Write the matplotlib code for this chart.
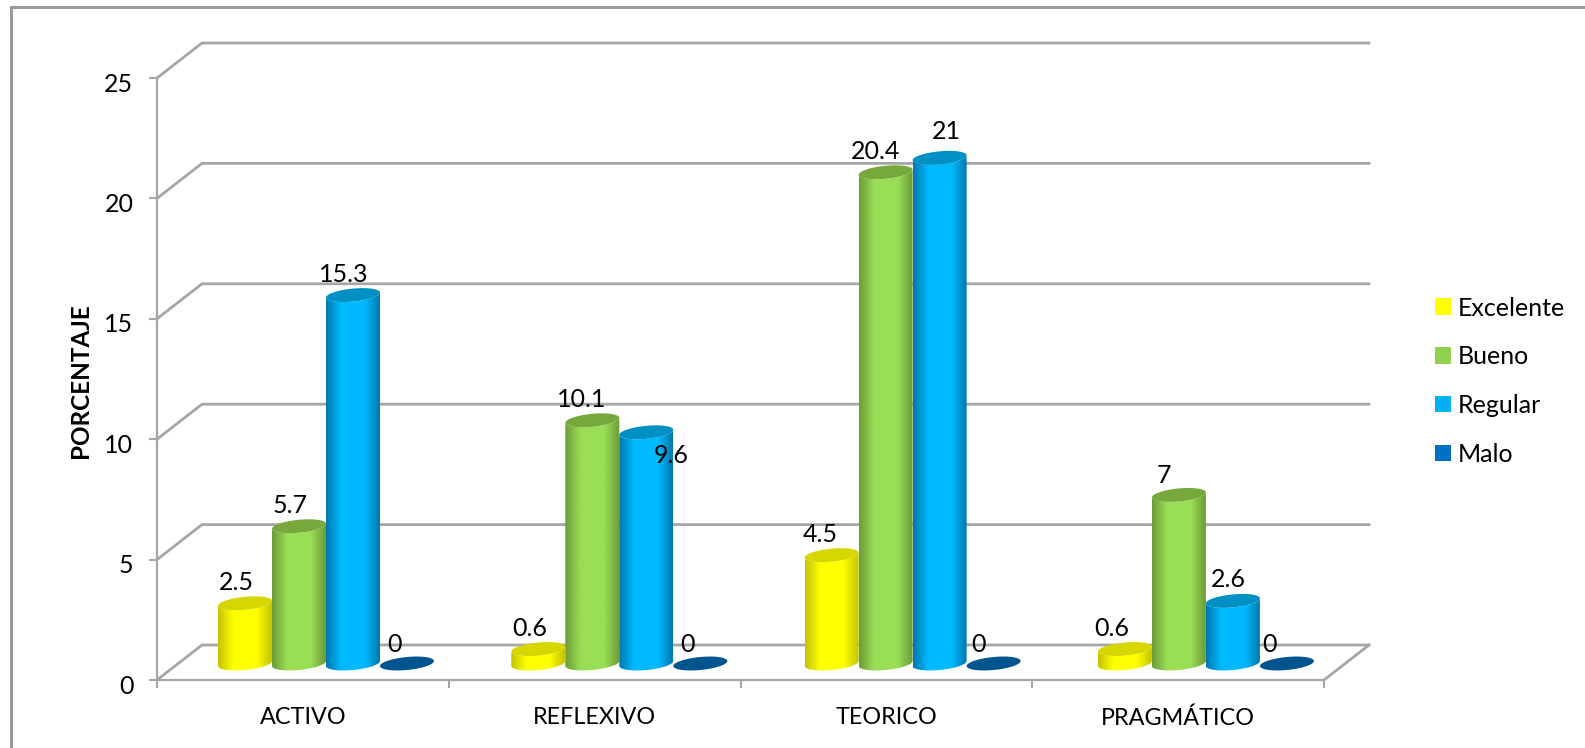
import numpy as np
import matplotlib
matplotlib.use("Agg")
import matplotlib.pyplot as plt
from matplotlib.colors import LinearSegmentedColormap
from matplotlib.lines import Line2D
from matplotlib.patches import Patch, Polygon
from matplotlib.transforms import ScaledTranslation

plt.rcParams['font.family'] = ['Lato', 'DejaVu Sans']

# ---- datos ----
categorias = ['ACTIVO', 'REFLEXIVO', 'TEORICO', 'PRAGMÁTICO']
excelente = [2.5, 0.6, 4.5, 0.6]
bueno = [5.7, 10.1, 20.4, 7]
regular = [15.3, 9.6, 21, 2.6]
malo = [0, 0, 0, 0]
series = ['Excelente', 'Bueno', 'Regular', 'Malo']
y_ticks = [0, 5, 10, 15, 20, 25]

# ---- estilo ----
valores = [excelente, bueno, regular, malo]
color_legend = ['#ffff00', '#92d050', '#00b0f0', '#0070c0']
color_borde = ['#c4c400', '#6c9c38', '#0079b0', '#00558f']
color_centro = ['#ffff00', '#9ade55', '#00baff', '#0070c0']
color_tapa = ['#d6d600', '#77a83c', '#0090c4', '#00558f']
gris = '#a6a6a6'

W, H = 1585, 748
x0, x1 = 157, 1324     # plano frontal en pixeles
y0, y1 = 680, 78
fig = plt.figure(figsize=(W / 100, H / 100), dpi=100)
ax = fig.add_axes([x0 / W, 1 - y0 / H, (x1 - x0) / W, (y0 - y1) / H])
ax.set_xlim(0, 4)
ax.set_ylim(0, 25)

# pixeles -> unidades de datos
ux = 4 / (x1 - x0)
uy = 25 / (y0 - y1)
prof_x = 45 * ux   # profundidad de la pared del fondo
prof_y = 35 * uy

# marco exterior (se sale por la derecha y abajo)
fig.add_artist(Line2D([10.5 / W, 10.5 / W, 1.2], [-0.2, 1 - 7 / H, 1 - 7 / H], color='#9a9a9a', lw=2.2))

# rejilla en perspectiva
for t in y_ticks:
    ax.plot([0, prof_x, 4 + prof_x], [t, t + prof_y, t + prof_y], color=gris, lw=2, clip_on=False, zorder=1,
            solid_joinstyle='miter')
ax.plot([4, 4 + prof_x], [0, prof_y], color=gris, lw=2, clip_on=False, zorder=1)

for s in ['top', 'right']:
    ax.spines[s].set_visible(False)
for s in ['left', 'bottom']:
    ax.spines[s].set_color(gris)
    ax.spines[s].set_linewidth(1.6)
    ax.spines[s].set_zorder(1.5)

ax.set_yticks(y_ticks)
ax.set_xticks(range(5))
ax.set_xticklabels([])
ax.set_xticks(np.arange(4) + 0.5, categorias, minor=True)
ax.tick_params(axis='x', which='major', length=6, width=1.5, color=gris)
ax.tick_params(axis='x', which='minor', length=0, pad=19.5, labelsize=16.8)
ax.tick_params(axis='y', length=6, width=1.5, color=gris, pad=11, labelsize=18)
# los numeros del eje y quedan un poco por debajo de su marca
baja = ScaledTranslation(0, -4 / 100, fig.dpi_scale_trans)
for lab in ax.get_yticklabels():
    lab.set_transform(lab.get_transform() + baja)
ax.set_ylabel('PORCENTAJE', fontsize=17.5, fontweight='bold', labelpad=9, y=0.497)


def elipse(cx, cy, t):
    # elipse inclinada: la derecha queda un poco mas alta
    return cx + a * np.cos(t), cy + b * np.sin(t) + c * np.cos(t)


paso = 54 * ux
sep = 293.3 * ux
a = 27 * ux
b = 6.5 * uy
c = 2.5 * uy
fondo_y = prof_y / 2 - 1 * uy
centro0 = 326 - x0
t_ab = np.linspace(np.pi, 2 * np.pi, 40)
t_full = np.linspace(0, 2 * np.pi, 80)

# desplazamiento de etiquetas en pixeles
offset = {(2, 1): (25, -23), (2, 2): (7, 26), (2, 3): (-5, 21), (1, 3): (-15, 19), (1, 2): (-10, 21),
          (1, 1): (-11, 21), (0, 2): (-11, 21), (0, 3): (-13, 21), (3, 0): (-13, 19), (3, 1): (-13, 19),
          (3, 2): (-15, 19), (3, 3): (-17, 19)}

zo = 3
for g in range(len(categorias)):
    for k, vals in enumerate(valores):
        v = vals[g]
        cx = centro0 * ux + g * sep + (k - 1.5) * paso
        cy = fondo_y
        if v > 0:
            xb, yb = elipse(cx, cy, t_ab)
            xt, yt = elipse(cx, cy + v, t_ab[::-1])
            cuerpo = Polygon(np.column_stack([np.r_[xb, xt], np.r_[yb, yt]]), transform=ax.transData, fc='none', ec='none')
            ax.add_patch(cuerpo)
            cmap = LinearSegmentedColormap.from_list('c', [(0, color_borde[k]), (0.28, color_centro[k]),
                                                           (0.72, color_centro[k]), (1, color_borde[k])])
            grad = np.linspace(0, 1, 64).reshape(1, -1)
            im = ax.imshow(grad, cmap=cmap, extent=[cx - a, cx + a, 0, cy + v + 2 * c], aspect='auto',
                           interpolation='bilinear', zorder=zo, clip_on=True)
            im.set_clip_path(cuerpo)
        xe, ye = elipse(cx, cy + v, t_full)
        ax.fill(xe, ye, color=color_tapa[k], lw=0, zorder=zo + 0.5, clip_on=False)
        dx, dy = offset.get((k, g), (-9, 21))
        ax.annotate(str(v), (cx, cy + v), xytext=(dx, dy), textcoords='offset pixels', ha='center', va='center',
                    fontsize=18, color='black', zorder=50, annotation_clip=False)
        zo += 1

ax.set_xlim(0, 4)
ax.set_ylim(0, 25)

handles = [Patch(fc=col, ec='none', label=s) for col, s in zip(color_legend, series)]
fig.legend(handles=handles, loc='upper left', bbox_to_anchor=(1435 / W, 1 - 296.5 / H), frameon=False, fontsize=18,
           handlelength=0.64, handleheight=0.64, handletextpad=0.26, labelspacing=1.03, borderpad=0, borderaxespad=0)

fig.savefig('out.png', dpi=100, facecolor='white')
